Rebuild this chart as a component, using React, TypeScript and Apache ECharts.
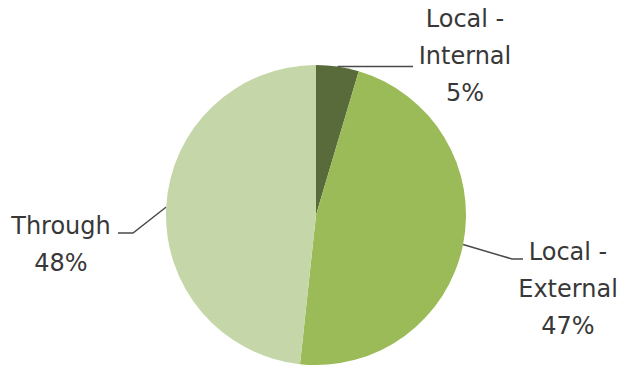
import React, { useEffect, useRef } from "react";
import * as echarts from "echarts";

const categories = ["Local - Internal", "Local - External", "Through"];
const values = [4.6, 47.1, 48.3];
const colors = ["#5a6b3b", "#9bbb59", "#c5d7a9"];

// label anchor (centre of text block) and leader elbow per slice
const labelAnchors = [
  { x: 465, y: 56, elbow: null as null | [number, number], end: [413, 65] },
  { x: 568, y: 289, elbow: [512, 259] as [number, number], end: [523, 259] },
  { x: 61, y: 244, elbow: [133, 233] as [number, number], end: [118, 233] },
];

export default function App() {
  const ref = useRef<HTMLDivElement>(null);
  useEffect(() => {
    document.body.style.margin = "0";
    const chart = echarts.init(ref.current!, null, { renderer: "svg" });
    chart.setOption({
      animation: false,
      backgroundColor: "#ffffff",
      series: [
        {
          type: "pie",
          center: [316, 215],
          radius: 150,
          startAngle: 90,
          clockwise: true,
          avoidLabelOverlap: false,
          data: categories.map((name, i) => ({
            name,
            value: values[i],
            itemStyle: { color: colors[i] },
          })),
          itemStyle: { borderWidth: 0 },
          label: {
            show: true,
            position: "outside",
            fontFamily: "DejaVu Sans",
            fontSize: 24,
            lineHeight: 37,
            color: "#383838",
            align: "center",
            formatter: (p: any) =>
              p.name.replace(" - ", " -\n") + "\n" + Math.round(p.percent) + "%",
          },
          labelLine: {
            show: true,
            length: 20,
            length2: 20,
            lineStyle: { color: "#4a4a4a", width: 1.5 },
          },
          labelLayout: (params: any) => {
            const a = labelAnchors[params.dataIndex];
            const start = params.labelLinePoints
              ? params.labelLinePoints[0]
              : [a.end[0], a.end[1]];
            const pts: number[][] = [start];
            if (a.elbow) {
              pts.push(a.elbow);
              pts.push(a.end);
            } else {
              pts.push([a.end[0], start[1]]);
            }
            return {
              x: a.x,
              y: a.y,
              align: "center",
              verticalAlign: "middle",
              labelLinePoints: pts,
            };
          },
        },
      ],
    });
    return () => chart.dispose();
  }, []);
  return <div ref={ref} style={{ width: 625, height: 368 }} />;
}
